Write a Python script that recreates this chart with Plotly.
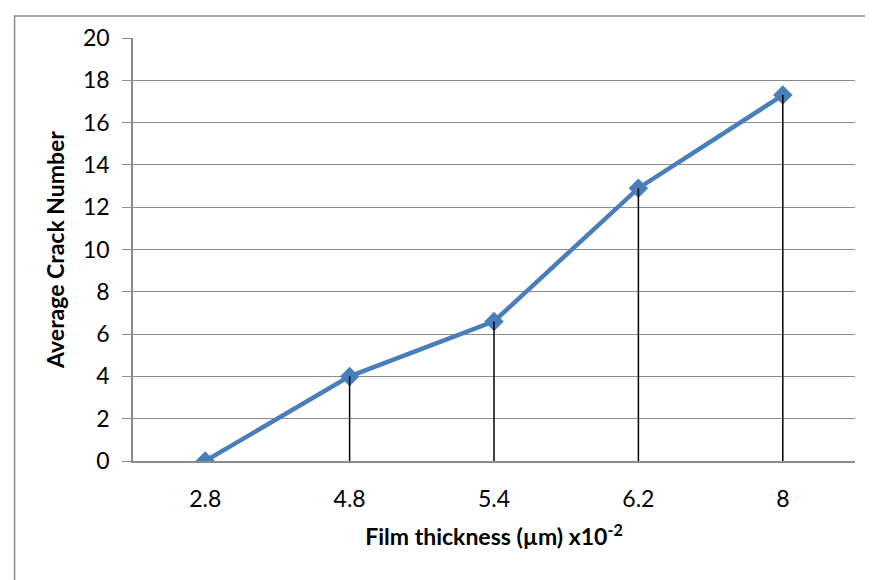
import plotly.graph_objects as go

categories = ["2.8", "4.8", "5.4", "6.2", "8"]
crack_number = [0.0, 4.0, 6.6, 12.9, 17.3]
y_ticks = [0, 2, 4, 6, 8, 10, 12, 14, 16, 18, 20]

FONT = "Lato"
BLUE = "#4A7EBB"
GRID = "#8C8C8C"

# drop lines from each point to the category axis
drop_x, drop_y = [], []
for c, v in zip(categories, crack_number):
    drop_x += [c, c, None]
    drop_y += [0, v, None]

fig = go.Figure()
fig.add_trace(go.Scatter(
    x=categories, y=crack_number, mode="lines+markers",
    line=dict(color=BLUE, width=4.5),
    marker=dict(symbol="diamond", size=15, color=BLUE),
    showlegend=False, hoverinfo="x+y",
))
fig.add_trace(go.Scatter(
    x=drop_x, y=drop_y, mode="lines",
    line=dict(color="black", width=1.5),
    showlegend=False, hoverinfo="skip",
))

fig.update_layout(
    width=865, height=572,
    margin=dict(l=125, r=18, t=30, b=119),
    paper_bgcolor="white", plot_bgcolor="white",
    font=dict(family=FONT, size=23, color="black"),
    xaxis=dict(
        type="category", range=[-0.5, 4.5],
        showgrid=False, showline=True, linecolor=GRID, linewidth=1.5,
        ticks="", ticklabelstandoff=17,
        tickfont=dict(family=FONT, size=23),
        title=dict(text="<b>Film thickness (µm) x10<sup>-2</sup></b>",
                   font=dict(family=FONT, size=23), standoff=18),
    ),
    yaxis=dict(
        range=[0, 20], tickvals=y_ticks,
        showgrid=True, gridcolor=GRID, gridwidth=1.2,
        showline=True, linecolor=GRID, linewidth=1.5,
        ticks="outside", ticklen=9, tickcolor=GRID, tickwidth=1.2,
        ticklabelstandoff=8,
        tickfont=dict(family=FONT, size=23),
        zeroline=False,
        title=dict(text="<b>Average Crack Number</b>",
                   font=dict(family=FONT, size=23), standoff=12),
    ),
    shapes=[dict(
        type="path", xref="paper", yref="paper",
        path="M -0.164,-0.5 L -0.164,1.052 L 1.3,1.052",
        line=dict(color="#8C8C8C", width=1.5),
        layer="below",
    )],
)

fig.write_html("out.html")
